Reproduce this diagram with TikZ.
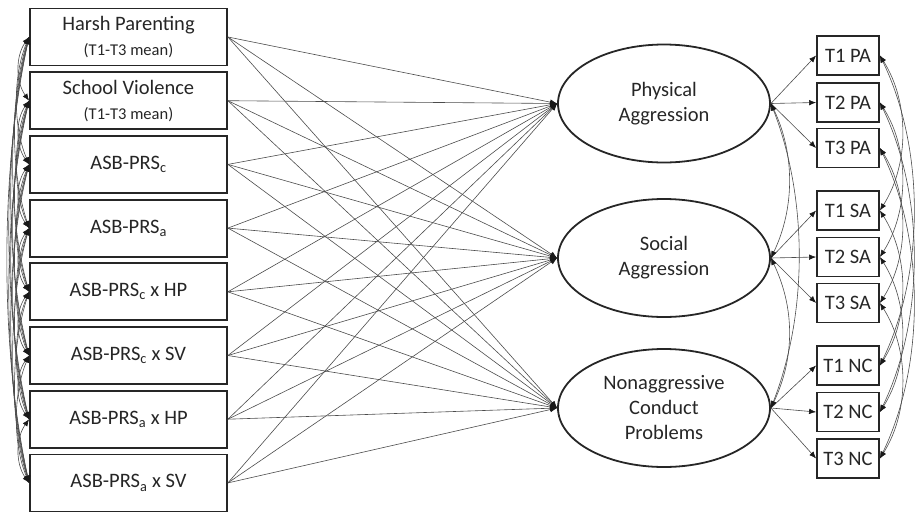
\documentclass[tikz,border=0pt]{standalone}
\usepackage{fontspec}
\setmainfont{Carlito}
\usetikzlibrary{arrows.meta,shapes.geometric,calc}
\begin{document}
\begin{tikzpicture}[x=1pt,y=-1pt,
 lbox/.style={draw=black!85, line width=1.8pt, minimum width=197pt, minimum height=57pt, inner sep=0pt, font=\fontsize{20.5}{25}\selectfont, align=center, text=black!85},
 rbox/.style={draw=black!85, line width=1.8pt, minimum width=62pt, minimum height=39pt, inner sep=0pt, font=\fontsize{20.5}{24}\selectfont, text=black!85},
 latent/.style={ellipse, draw=black!85, line width=1.8pt, minimum width=212pt, minimum height=118pt, inner sep=0pt, align=center, font=\fontsize{20.5}{25}\selectfont, text=black!85},
 reg/.style={draw=black!70, line width=0.6pt, -{Latex[length=7pt,width=5.5pt,color=black!90]}},
 covar/.style={draw=black!70, line width=0.6pt, {Latex[length=7pt,width=5.5pt,color=black!90]}-{Latex[length=7pt,width=5.5pt,color=black!90]}},
]
\useasboundingbox (0,0) rectangle (918,512);

% exogenous boxes
\node[lbox] (L1) at (128.5,37.0) {Harsh Parenting\\{\fontsize{16.5}{20}\selectfont (T1-T3 mean)}};
\node[lbox] (L2) at (128.5,100.7) {School Violence\\{\fontsize{16.5}{20}\selectfont (T1-T3 mean)}};
\node[lbox] (L3) at (128.5,164.4) {ASB-PRS\textsubscript{c}};
\node[lbox] (L4) at (128.5,228.1) {ASB-PRS\textsubscript{a}};
\node[lbox] (L5) at (128.5,291.8) {ASB-PRS\textsubscript{c} x HP};
\node[lbox] (L6) at (128.5,355.5) {ASB-PRS\textsubscript{c} x SV};
\node[lbox] (L7) at (128.5,419.2) {ASB-PRS\textsubscript{a} x HP};
\node[lbox] (L8) at (128.5,482.9) {ASB-PRS\textsubscript{a} x SV};

% latent factors
\node[latent] (PA) at (664,103.5) {Physical\\Aggression};
\node[latent] (SA) at (664,258) {Social\\Aggression};
\node[latent] (NC) at (664,408) {Nonaggressive\\Conduct\\Problems};

% indicators
\node[rbox] (R1) at (848,55.5) {T1 PA};
\node[rbox] (R2) at (848,102.5) {T2 PA};
\node[rbox] (R3) at (848,148) {T3 PA};
\node[rbox] (R4) at (848,210.5) {T1 SA};
\node[rbox] (R5) at (848,257) {T2 SA};
\node[rbox] (R6) at (848,303) {T3 SA};
\node[rbox] (R7) at (848,365.5) {T1 NC};
\node[rbox] (R8) at (848,412) {T2 NC};
\node[rbox] (R9) at (848,458.5) {T3 NC};

% regressions
\foreach \i in {1,...,8}{
  \foreach \f in {PA,SA,NC}{
    \draw[reg] (L\i.east) -- (\f.west);
  }
}

% loadings
\foreach \f/\a/\b/\c in {PA/R1/R2/R3, SA/R4/R5/R6, NC/R7/R8/R9}{
  \draw[reg] (\f.east) -- (\a.west);
  \draw[reg] (\f.east) -- (\b.west);
  \draw[reg] (\f.east) -- (\c.west);
}

% covariances among exogenous variables
\foreach \i in {1,...,7}{
  \pgfmathtruncatemacro\ni{\i+1}
  \foreach \j in {\ni,...,8}{
    \pgfmathsetmacro\dd{11+2.6*(\j-\i)}
    \pgfmathsetmacro\vv{0.3*63.7*(\j-\i)}
    \draw[covar] (L\i.west) .. controls +(-\dd,\vv) and +(-\dd,-\vv) .. (L\j.west);
  }
}

% factor covariances
\draw[covar] (PA.east) .. controls +(24,50) and +(24,-50) .. (SA.east);
\draw[covar] (SA.east) .. controls +(24,50) and +(24,-50) .. (NC.east);
\draw[covar] (PA.east) .. controls +(37,95) and +(37,-95) .. (NC.east);

% residual covariances
\foreach \a/\b in {R1/R4, R1/R7, R4/R7, R2/R5, R2/R8, R5/R8, R3/R6, R3/R9, R6/R9}{
  \path let \p1=(\a.east), \p2=(\b.east), \n1={veclen(0,\y1-\y2)} in
    \pgfextra{\pgfmathsetmacro\dd{14+0.1*\n1}\pgfmathsetmacro\vv{0.3*\n1}}
    [covar] (\a.east) .. controls +(\dd pt,-\vv pt) and +(\dd pt,\vv pt) .. (\b.east);
}
\end{tikzpicture}
\end{document}
